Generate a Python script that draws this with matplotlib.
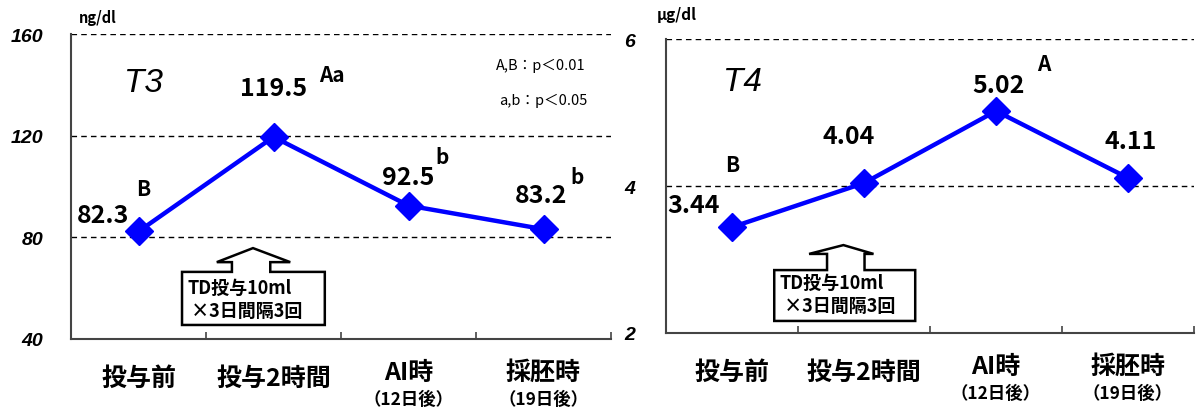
import numpy as np
import matplotlib.pyplot as plt
from matplotlib.patches import Polygon
from matplotlib.transforms import blended_transform_factory

plt.rcParams['font.family'] = ['Noto Sans CJK JP', 'DejaVu Sans']

# データ
cats = ['投与前', '投与2時間', 'AI時', '採胚時']
subs = ['', '', '（12日後）', '（19日後）']
t3_vals = [82.3, 119.5, 92.5, 83.2]
t4_vals = [3.44, 4.04, 5.02, 4.11]
t3_sig = ['B', 'Aa', 'b', 'b']
t4_sig = ['B', '', 'A', '']
t3_ticks = [40, 80, 120, 160]
t4_ticks = [2, 4, 6]

W, H = 1198, 414
fig = plt.figure(figsize=(W / 100, H / 100), dpi=100)

BLUE = '#0000ff'
italic_font = dict(family='Liberation Sans', style='italic', weight='bold')


def callout(ax, bl, br, bb, bt, sl, sr, hl, hr, hb, tip, ty1, ty2):
    """吹き出し付きの矢印ボックス（軸座標）"""
    pts = [(bl, bb), (br, bb), (br, bt), (sr, bt), (sr, hb), (hr, hb), tip,
           (hl, hb), (sl, hb), (sl, bt), (bl, bt)]
    ax.add_patch(Polygon(pts, closed=True, transform=ax.transAxes,
                         facecolor='white', edgecolor='black', lw=1.8,
                         joinstyle='miter', zorder=4, clip_on=False))
    ax.text(bl + 0.010, ty1, 'TD投与10ml', transform=ax.transAxes,
            fontsize=13, fontweight='bold', va='center', ha='left', zorder=5)
    ax.text(bl + 0.010, ty2, ' ×3日間隔3回', transform=ax.transAxes,
            fontsize=13, fontweight='bold', va='center', ha='left', zorder=5)


def setup(ax, vals, ticks, ylim, tickpad):
    x = np.arange(len(vals))
    for t in ticks[1:]:
        ax.axhline(t, color='black', lw=1, ls=(0, (4, 3)), zorder=1)
    ax.plot(x, vals, color=BLUE, lw=3.2, marker='D', ms=14, zorder=3,
            clip_on=False)
    ax.set_xlim(-0.5, len(vals) - 0.5)
    ax.set_ylim(*ylim)
    ax.set_yticks(ticks)
    ax.set_yticklabels([str(t) for t in ticks], fontdict=dict(size=14, **italic_font))
    ax.tick_params(axis='y', length=0, pad=tickpad)
    ax.set_xticks([])
    ax.set_xticks(np.arange(len(vals)) + 0.5, minor=True)
    ax.tick_params(axis='x', which='minor', direction='in', length=5,
                   width=1.2, color='#444444')
    for s in ['top', 'right']:
        ax.spines[s].set_visible(False)
    for s in ['left', 'bottom']:
        ax.spines[s].set_color('#444444')
        ax.spines[s].set_linewidth(1.5)
    tr = blended_transform_factory(ax.transData, ax.transAxes)
    for i, (c, s) in enumerate(zip(cats, subs)):
        if s:
            ax.annotate(c, (i, 0), xycoords=tr, xytext=(0, -24),
                        textcoords='offset points', ha='center', va='center',
                        fontsize=18, fontweight='bold')
            ax.annotate(s, (i, 0), xycoords=tr, xytext=(0, -43),
                        textcoords='offset points', ha='center', va='center',
                        fontsize=12.5, fontweight='bold')
        else:
            ax.annotate(c, (i, 0), xycoords=tr, xytext=(0, -28),
                        textcoords='offset points', ha='center', va='center',
                        fontsize=18, fontweight='bold')
    return x


def label(ax, x, y, txt, dx, dy, size=18):
    # dx, dy: ピクセル単位のオフセット
    ax.annotate(txt, (x, y), xytext=(dx * 0.72, dy * 0.72),
                textcoords='offset points', ha='center', va='center',
                fontsize=size, fontweight='bold', zorder=6)


# ---- T3 ----
ax1 = fig.add_axes([71 / W, (H - 340) / H, 540 / W, 305 / H])
x = setup(ax1, t3_vals, t3_ticks, (40, 160), 20)
val_off = [(-35, 16), (0, 49), (0, 29), (-2, 34)]
sig_off = [(5, 43), (58, 62), (34, 49), (34, 53)]
for i, v in enumerate(t3_vals):
    label(ax1, x[i], v, f'{v:.1f}', *val_off[i])
    if t3_sig[i]:
        label(ax1, x[i], v, t3_sig[i], *sig_off[i], size=15)
ax1.text(0.135, 0.84, 'T3', transform=ax1.transAxes, fontsize=24,
         family='Liberation Sans', style='italic', va='center', ha='center')
ax1.text(0.87, 0.90, 'A,B：p＜0.01', transform=ax1.transAxes, fontsize=10.5,
         va='center', ha='center')
ax1.text(0.875, 0.785, 'a,b：p＜0.05', transform=ax1.transAxes, fontsize=10.5,
         va='center', ha='center')
callout(ax1, 0.2056, 0.470, 0.046, 0.220, 0.298, 0.369, 0.270, 0.406,
        0.252, (0.337, 0.298), 0.170, 0.092)
fig.text(98 / W, 1 - 18 / H, 'ng/dl', fontsize=10.5, fontweight='bold',
         ha='center', va='center')

# ---- T4 ----
ax2 = fig.add_axes([666 / W, (H - 334) / H, 528 / W, 294 / H])
x = setup(ax2, t4_vals, t4_ticks, (2, 6), 22)
val_off = [(-38, 22), (-15, 47), (3, 26), (3, 37)]
sig_off = [(0, 63), None, (48, 48), None]
for i, v in enumerate(t4_vals):
    label(ax2, x[i], v, f'{v:.2f}', *val_off[i])
    if t4_sig[i]:
        label(ax2, x[i], v, t4_sig[i], *sig_off[i], size=15)
ax2.text(0.145, 0.855, 'T4', transform=ax2.transAxes, fontsize=24,
         family='Liberation Sans', style='italic', va='center', ha='center')
callout(ax2, 0.205, 0.472, 0.041, 0.214, 0.305, 0.376, 0.271, 0.393,
        0.269, (0.336, 0.299), 0.173, 0.092)
fig.text(677 / W, 1 - 15 / H, 'μg/dl', fontsize=11, fontweight='bold',
         ha='center', va='center')

fig.savefig('out.png', dpi=100)
